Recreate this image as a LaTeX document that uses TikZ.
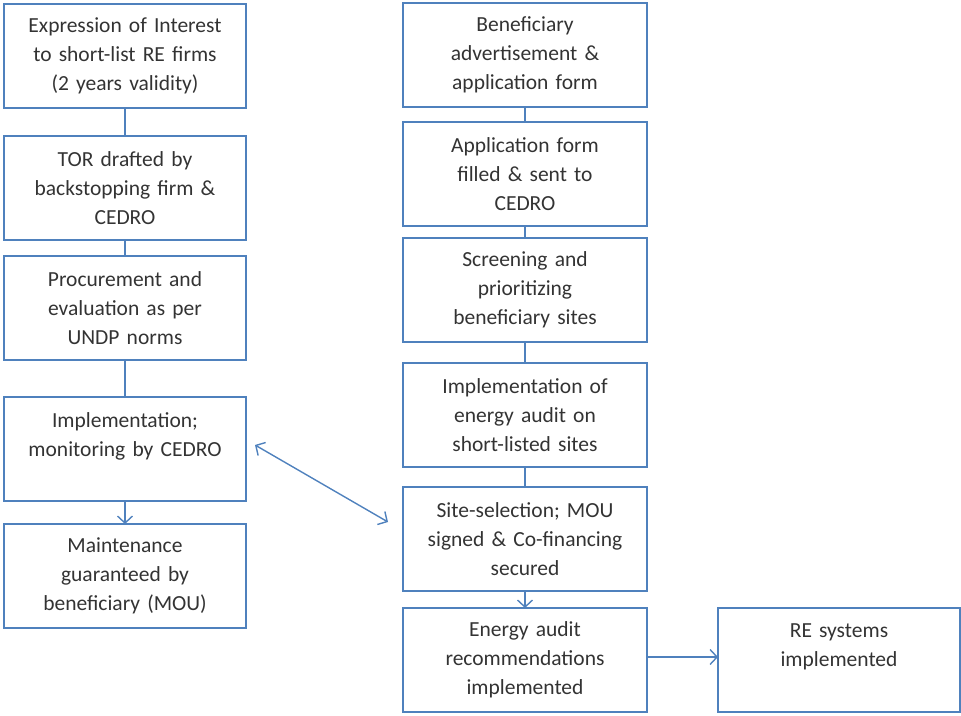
\documentclass[tikz,border=0pt]{standalone}
\usepackage{fontspec}
\setmainfont{Carlito}
\usepackage{xcolor}
\usetikzlibrary{arrows.meta,positioning,calc}
\definecolor{boxblue}{RGB}{79,129,189}

\begin{document}
\begin{tikzpicture}[x=1pt,y=1pt,
  stepbox/.style={rectangle, draw=boxblue, line width=1.4pt, minimum width=242pt, minimum height=104pt, text width=238pt, align=center, inner sep=0pt, outer sep=0pt, text=black!80, font=\fontsize{21.5}{29}\selectfont},
  link/.style={draw=boxblue, line width=1.4pt},
  flow/.style={link, -{Straight Barb[length=7pt,width=15pt,line width=1.4pt]}},
  twoway/.style={link, {Straight Barb[length=7pt,width=15pt,line width=1.4pt]}-{Straight Barb[length=7pt,width=15pt,line width=1.4pt]}}]
\useasboundingbox (0,0) rectangle (961,-715);
% left column
\node[stepbox] (eoi) at (125,-56) {Expression of Interest\\to short-list RE firms\\(2 years validity)};
\node[stepbox, below=28pt of eoi] (tor) {TOR drafted by\\backstopping firm \&\\CEDRO};
\node[stepbox, below=16pt of tor] (proc) {Procurement and\\evaluation as per\\UNDP norms};
\node[stepbox, below=37pt of proc] (impl) {Implementation;\\monitoring by CEDRO\\\mbox{}};
\node[stepbox, below=23pt of impl] (maint) {Maintenance\\guaranteed by\\beneficiary (MOU)};
% right column
\node[stepbox, minimum width=244pt] (adv) at (525,-55) {Beneficiary\\advertisement \&\\application form};
\node[stepbox, minimum width=244pt, below=15pt of adv] (appl) {Application form\\filled \& sent to\\CEDRO};
\node[stepbox, minimum width=244pt, below=12pt of appl] (screen) {Screening and\\prioritizing\\beneficiary sites};
\node[stepbox, minimum width=244pt, below=21pt of screen] (audit) {Implementation of\\energy audit on\\short-listed sites};
\node[stepbox, minimum width=244pt, below=20pt of audit] (site) {Site-selection; MOU\\signed \& Co-financing\\secured};
\node[stepbox, minimum width=244pt, below=17pt of site] (recom) {Energy audit\\recommendations\\implemented};
\node[stepbox, right=71pt of recom] (resys) {RE systems\\implemented\\\mbox{}};
% connectors
\draw[link] (eoi) -- (tor);
\draw[link] (tor) -- (proc);
\draw[link] (proc) -- (impl);
\draw[flow] (impl) -- (maint);
\draw[link] (adv) -- (appl);
\draw[link] (appl) -- (screen);
\draw[link] (screen) -- (audit);
\draw[link] (audit) -- (site);
\draw[flow] (site) -- (recom);
\draw[flow] ([yshift=3pt]recom.east) -- ([yshift=3pt]resys.west);
\draw[twoway] ([xshift=9pt,yshift=4pt]impl.east) -- ([xshift=-15pt,yshift=17pt]site.west);
\end{tikzpicture}
\end{document}
